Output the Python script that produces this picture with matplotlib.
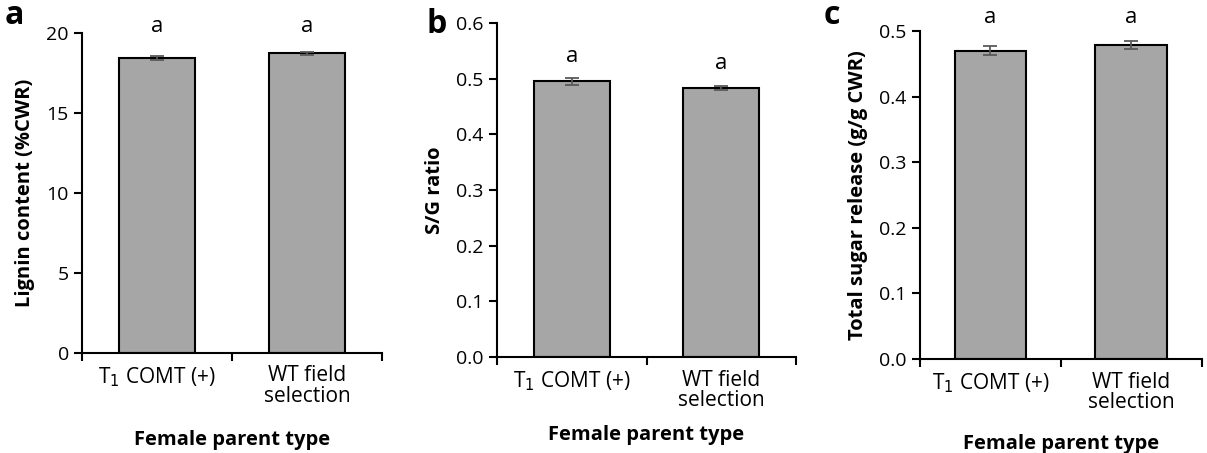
"""Three-panel bar chart: lignin, S/G ratio and sugar release by female parent type."""

import matplotlib

matplotlib.use("Agg")

import matplotlib.pyplot as plt
import numpy as np

categories = ["T$_1$ COMT (+)", "WT field\nselection"]

lignin = [18.45, 18.72]
lignin_err = [0.12, 0.12]
sg_ratio = [0.495, 0.483]
sg_err = [0.006, 0.004]
sugar = [0.470, 0.479]
sugar_err = [0.0065, 0.0065]

letters = ["a", "a"]

plt.rcParams["font.family"] = ["Open Sans", "DejaVu Sans"]

BAR_COLOR = "#a6a6a6"
ERR_COLOR = "#595959"

fig = plt.figure(figsize=(12.07, 4.53), dpi=100)

panels = [
    # rect, values, errors, ylabel, ylim, yticks, fmt, letter y, panel tag, tag pos, xlabel pad
    ([0.0679, 0.2208, 0.2486, 0.7064], lignin, lignin_err, "Lignin content (%CWR)",
     (0, 20), [0, 5, 10, 15, 20], "{:.0f}", [20.4, 20.4], "a", (0.004, 0.965), 17),
    ([0.4118, 0.2119, 0.2477, 0.7373], sg_ratio, sg_err, "S/G ratio",
     (0, 0.6), [0, 0.1, 0.2, 0.3, 0.4, 0.5, 0.6], "{:.1f}", [0.539, 0.528], "b", (0.353, 0.945), 10),
    ([0.7622, 0.2075, 0.2336, 0.7240], sugar, sugar_err, "Total sugar release (g/g CWR)",
     (0, 0.5), [0, 0.1, 0.2, 0.3, 0.4, 0.5], "{:.1f}", [0.52, 0.52], "c", (0.682, 0.965), 15),
]

x = np.arange(len(categories))
for rect, vals, errs, ylabel, ylim, yticks, fmt, let_y, tag, tag_pos, xlab_pad in panels:
    ax = fig.add_axes(rect)
    ax.bar(x, vals, width=0.51, color=BAR_COLOR, edgecolor="black", linewidth=1.5, zorder=2)
    ax.errorbar(x, vals, yerr=errs, fmt="none", ecolor=ERR_COLOR, elinewidth=1.3,
                capsize=5, capthick=1.3, zorder=3)
    for xi, ly, lt in zip(x, let_y, letters):
        ax.text(xi, ly, lt, ha="center", va="center", fontsize=16, clip_on=False)

    ax.set_xlim(-0.5, 1.5)
    ax.set_ylim(*ylim)
    ax.set_yticks(yticks)
    ax.set_yticklabels([fmt.format(v) for v in yticks], fontsize=14)
    ax.set_xticks([-0.5, 0.5, 1.5])
    ax.set_xticklabels([])
    ax.set_xticks(x, minor=True)
    ax.set_xticklabels(categories, minor=True, fontsize=15, linespacing=0.95)
    ax.tick_params(axis="x", which="minor", length=0, pad=9)
    ax.tick_params(axis="x", which="major", length=6, width=1.5, direction="out")
    ax.tick_params(axis="y", length=6, width=1.5, direction="out")

    for side in ("top", "right"):
        ax.spines[side].set_visible(False)
    for side in ("left", "bottom"):
        ax.spines[side].set_linewidth(1.5)

    ax.set_ylabel(ylabel, fontsize=14.5, fontweight="bold", labelpad=8)
    ax.set_xlabel("Female parent type", fontsize=14.5, fontweight="bold", labelpad=xlab_pad)
    fig.text(tag_pos[0], tag_pos[1], tag, fontsize=23, fontweight="bold", va="center")

fig.savefig("out.png", dpi=100)
